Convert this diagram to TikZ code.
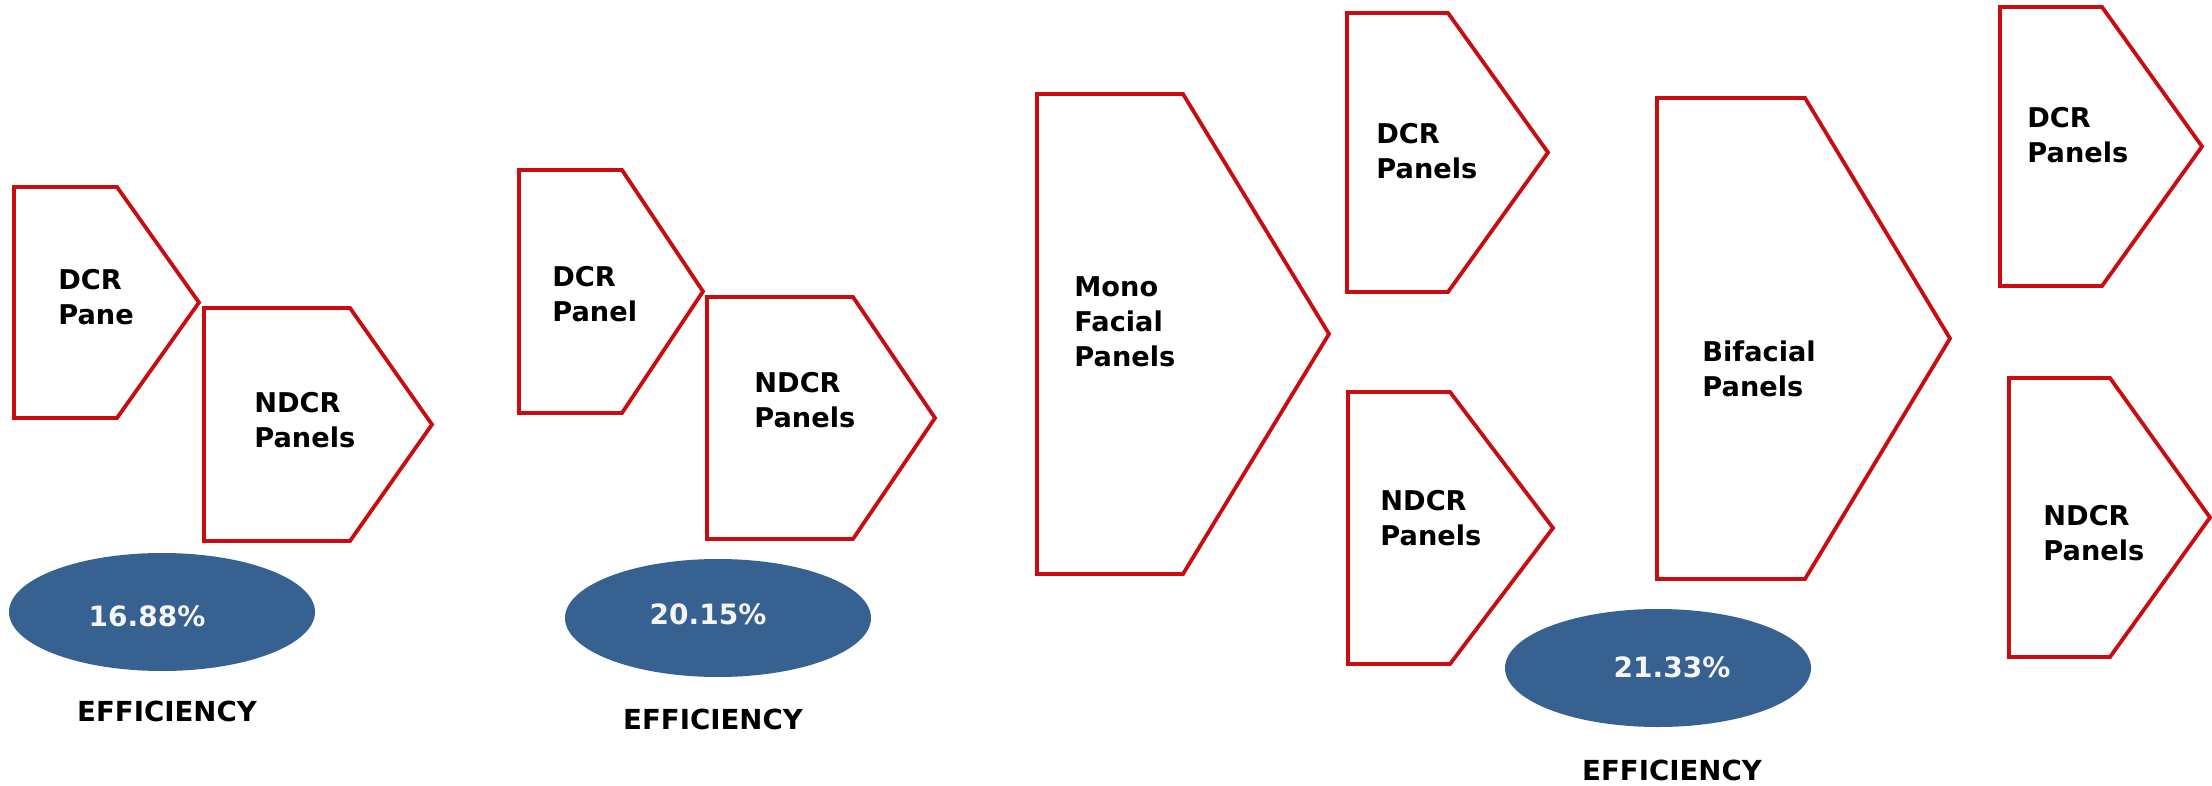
\documentclass[tikz,border=0pt]{standalone}
\usepackage{fontspec}
\newfontfamily\lblfont{DejaVu Sans}
\definecolor{panelred}{RGB}{200,12,16}
\definecolor{ovalblue}{RGB}{55,97,145}
\definecolor{ovaltext}{RGB}{245,245,245}
\tikzset{
  panelshape/.style={draw=panelred, line width=1.9pt, line join=miter, fill=white},
  paneltext/.style={font=\lblfont\bfseries\fontsize{13.6}{17.5}\selectfont, align=left, anchor=west, inner sep=0pt, text=black},
  oval/.style={fill=ovalblue, draw=none},
  ovaltextstyle/.style={font=\lblfont\bfseries\fontsize{14}{17}\selectfont, inner sep=0pt, text=ovaltext},
  efftext/.style={font=\lblfont\bfseries\fontsize{13.8}{17}\selectfont, inner sep=0pt, text=black}
}
% #1 left, #2 right, #3 tip, #4 top, #5 bottom
\newcommand\pentarrow[5]{%
  \draw[panelshape] (#1,#4) -- (#2,#4) -- (#3,{(#4+#5)/2}) -- (#2,#5) -- (#1,#5) -- cycle;}
\begin{document}
\begin{tikzpicture}[x=0.5pt,y=-0.5pt]
\useasboundingbox (0,0) rectangle (2212,786);
\fill[white] (0,0) rectangle (2212,786);

% group 1
\pentarrow{14}{117}{199}{187}{418}
\node[paneltext] (t1) at (58,297.5) {DCR\\Pane};
\pentarrow{204}{350}{432}{308}{541}
\node[paneltext] (t2) at (254,420.5) {NDCR\\Panels};
\fill[oval] (162,612) ellipse [x radius=153, y radius=59];
\node[ovaltextstyle] (p1) at (147,616) {16.88\%};
\node[efftext] (e1) at (167,711) {EFFICIENCY};

% group 2
\pentarrow{519}{622}{703}{170}{413}
\node[paneltext] (t3) at (552,294) {DCR\\Panel};
\pentarrow{707}{853}{935}{297}{539}
\node[paneltext] (t4) at (754,400) {NDCR\\Panels};
\fill[oval] (718,618) ellipse [x radius=153, y radius=59];
\node[ovaltextstyle] (p2) at (708,614) {20.15\%};
\node[efftext] (e2) at (713,719) {EFFICIENCY};

% group 3
\pentarrow{1037}{1183}{1329}{94}{574}
\node[paneltext] (t5) at (1074,322) {Mono\\Facial\\Panels};
\pentarrow{1347}{1448}{1548}{13}{292}
\node[paneltext] (t6) at (1376,151) {DCR\\Panels};
\pentarrow{1348}{1450}{1553}{392}{664}
\node[paneltext] (t7) at (1380,518.5) {NDCR\\Panels};
\pentarrow{1657}{1805}{1950}{98}{579}
\node[paneltext] (t8) at (1702,369) {Bifacial\\Panels};
\fill[oval] (1658,668) ellipse [x radius=153, y radius=59];
\node[ovaltextstyle] (p3) at (1672,667) {21.33\%};
\node[efftext] (e3) at (1672,770) {EFFICIENCY};

% group 4
\pentarrow{2000}{2102}{2202}{7}{286}
\node[paneltext] (t9) at (2027,135.5) {DCR\\Panels};
\pentarrow{2009}{2110}{2210}{378}{657}
\node[paneltext] (t10) at (2043,533.5) {NDCR\\Panels};
\end{tikzpicture}
\end{document}
